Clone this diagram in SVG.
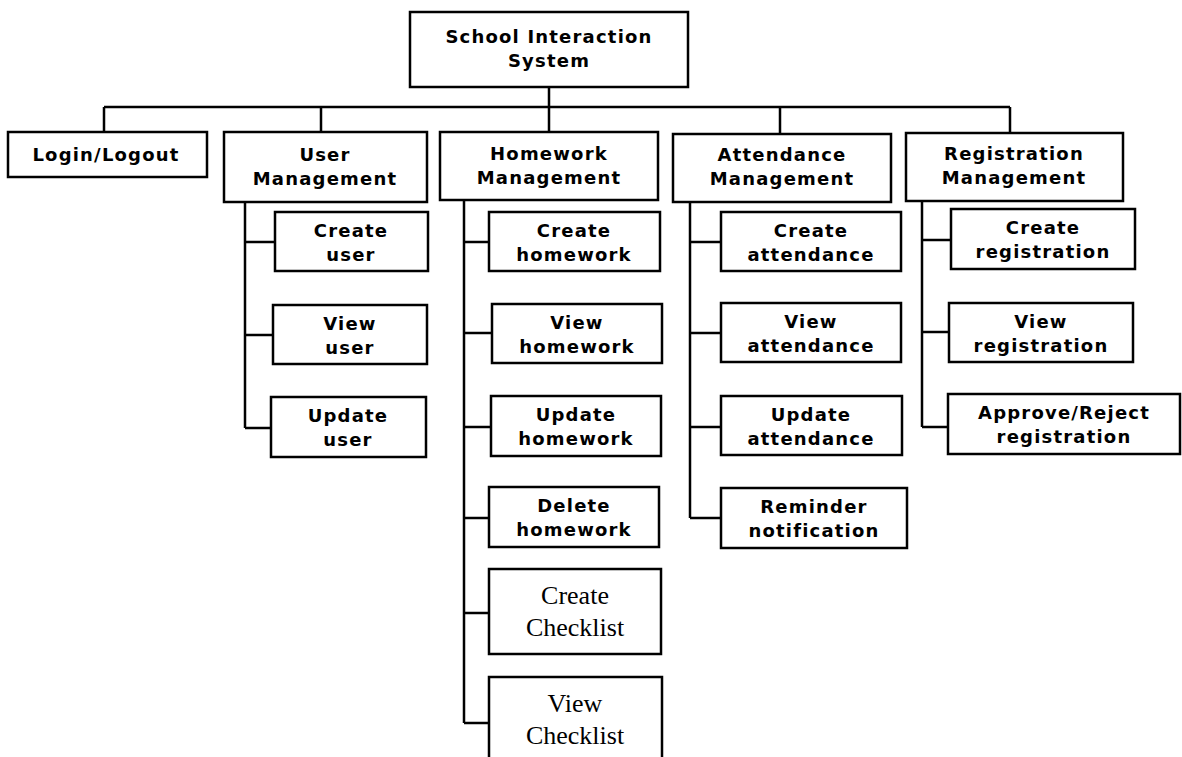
<svg xmlns="http://www.w3.org/2000/svg" width="1182" height="757" viewBox="0 0 1182 757">
<style>
.box{fill:#fff;stroke:#000;stroke-width:2.5}
.t{font-family:"DejaVu Sans","Verdana",sans-serif;font-weight:bold;font-size:18px;letter-spacing:1.2px;text-anchor:middle;fill:#000}
.s{font-family:"Liberation Serif","Times New Roman",serif;font-size:26px;text-anchor:middle;fill:#000}
.c{fill:none;stroke:#000;stroke-width:2.5}
</style>
<rect width="1182" height="757" fill="#fff"/>
<g id="connectors">
<path class="c" d="M549 87V107M104 107H1010M104 107V132M321 107V132M549 107V132M780 107V134M1010 107V133"/>
<path class="c" d="M245 202V428M245 242H275M245 335H273M245 428H271"/>
<path class="c" d="M464 200V723M464 242H489M464 333H492M464 427H491M464 518H489M464 613H489M464 723H489"/>
<path class="c" d="M690 202V518M690 242H721M690 333H721M690 427H721M690 518H721"/>
<path class="c" d="M922 201V427M922 240H951M922 332H949M922 427H948"/>
</g>
<g id="root"><rect class="box" x="410" y="12" width="278" height="75"/><text class="t" x="549" y="43">School Interaction</text><text class="t" x="549" y="67">System</text></g>
<g id="login"><rect class="box" x="8" y="132" width="199" height="45"/><text class="t" x="106" y="161">Login/Logout</text></g>
<g id="usermgmt"><rect class="box" x="224" y="132" width="203" height="70"/><text class="t" x="325" y="161">User</text><text class="t" x="325" y="185">Management</text></g>
<g id="hwmgmt"><rect class="box" x="440" y="132" width="218" height="68"/><text class="t" x="549" y="160">Homework</text><text class="t" x="549" y="184">Management</text></g>
<g id="attmgmt"><rect class="box" x="673" y="134" width="218" height="68"/><text class="t" x="782" y="161">Attendance</text><text class="t" x="782" y="185">Management</text></g>
<g id="regmgmt"><rect class="box" x="906" y="133" width="217" height="68"/><text class="t" x="1014" y="160">Registration</text><text class="t" x="1014" y="184">Management</text></g>
<g id="createuser"><rect class="box" x="275" y="212" width="153" height="59"/><text class="t" x="351" y="237">Create</text><text class="t" x="351" y="261">user</text></g>
<g id="viewuser"><rect class="box" x="273" y="305" width="154" height="59"/><text class="t" x="350" y="330">View</text><text class="t" x="350" y="354">user</text></g>
<g id="updateuser"><rect class="box" x="271" y="397" width="155" height="60"/><text class="t" x="348" y="422">Update</text><text class="t" x="348" y="446">user</text></g>
<g id="createhw"><rect class="box" x="489" y="212" width="171" height="59"/><text class="t" x="574" y="237">Create</text><text class="t" x="574" y="261">homework</text></g>
<g id="viewhw"><rect class="box" x="492" y="304" width="170" height="59"/><text class="t" x="577" y="329">View</text><text class="t" x="577" y="353">homework</text></g>
<g id="updatehw"><rect class="box" x="491" y="396" width="170" height="60"/><text class="t" x="576" y="421">Update</text><text class="t" x="576" y="445">homework</text></g>
<g id="deletehw"><rect class="box" x="489" y="487" width="170" height="60"/><text class="t" x="574" y="512">Delete</text><text class="t" x="574" y="536">homework</text></g>
<g id="createcl"><rect class="box" x="489" y="569" width="172" height="85"/><text class="s" x="575" y="604">Create</text><text class="s" x="575" y="636">Checklist</text></g>
<g id="viewcl"><rect class="box" x="489" y="677" width="173" height="90"/><text class="s" x="575" y="712">View</text><text class="s" x="575" y="744">Checklist</text></g>
<g id="createatt"><rect class="box" x="721" y="212" width="180" height="59"/><text class="t" x="811" y="237">Create</text><text class="t" x="811" y="261">attendance</text></g>
<g id="viewatt"><rect class="box" x="721" y="303" width="180" height="59"/><text class="t" x="811" y="328">View</text><text class="t" x="811" y="352">attendance</text></g>
<g id="updateatt"><rect class="box" x="721" y="396" width="181" height="59"/><text class="t" x="811" y="421">Update</text><text class="t" x="811" y="445">attendance</text></g>
<g id="reminder"><rect class="box" x="721" y="488" width="186" height="60"/><text class="t" x="814" y="513">Reminder</text><text class="t" x="814" y="537">notification</text></g>
<g id="createreg"><rect class="box" x="951" y="209" width="184" height="60"/><text class="t" x="1043" y="234">Create</text><text class="t" x="1043" y="258">registration</text></g>
<g id="viewreg"><rect class="box" x="949" y="303" width="184" height="59"/><text class="t" x="1041" y="328">View</text><text class="t" x="1041" y="352">registration</text></g>
<g id="approvereg"><rect class="box" x="948" y="394" width="232" height="60"/><text class="t" x="1064" y="419">Approve/Reject</text><text class="t" x="1064" y="443">registration</text></g>
</svg>
